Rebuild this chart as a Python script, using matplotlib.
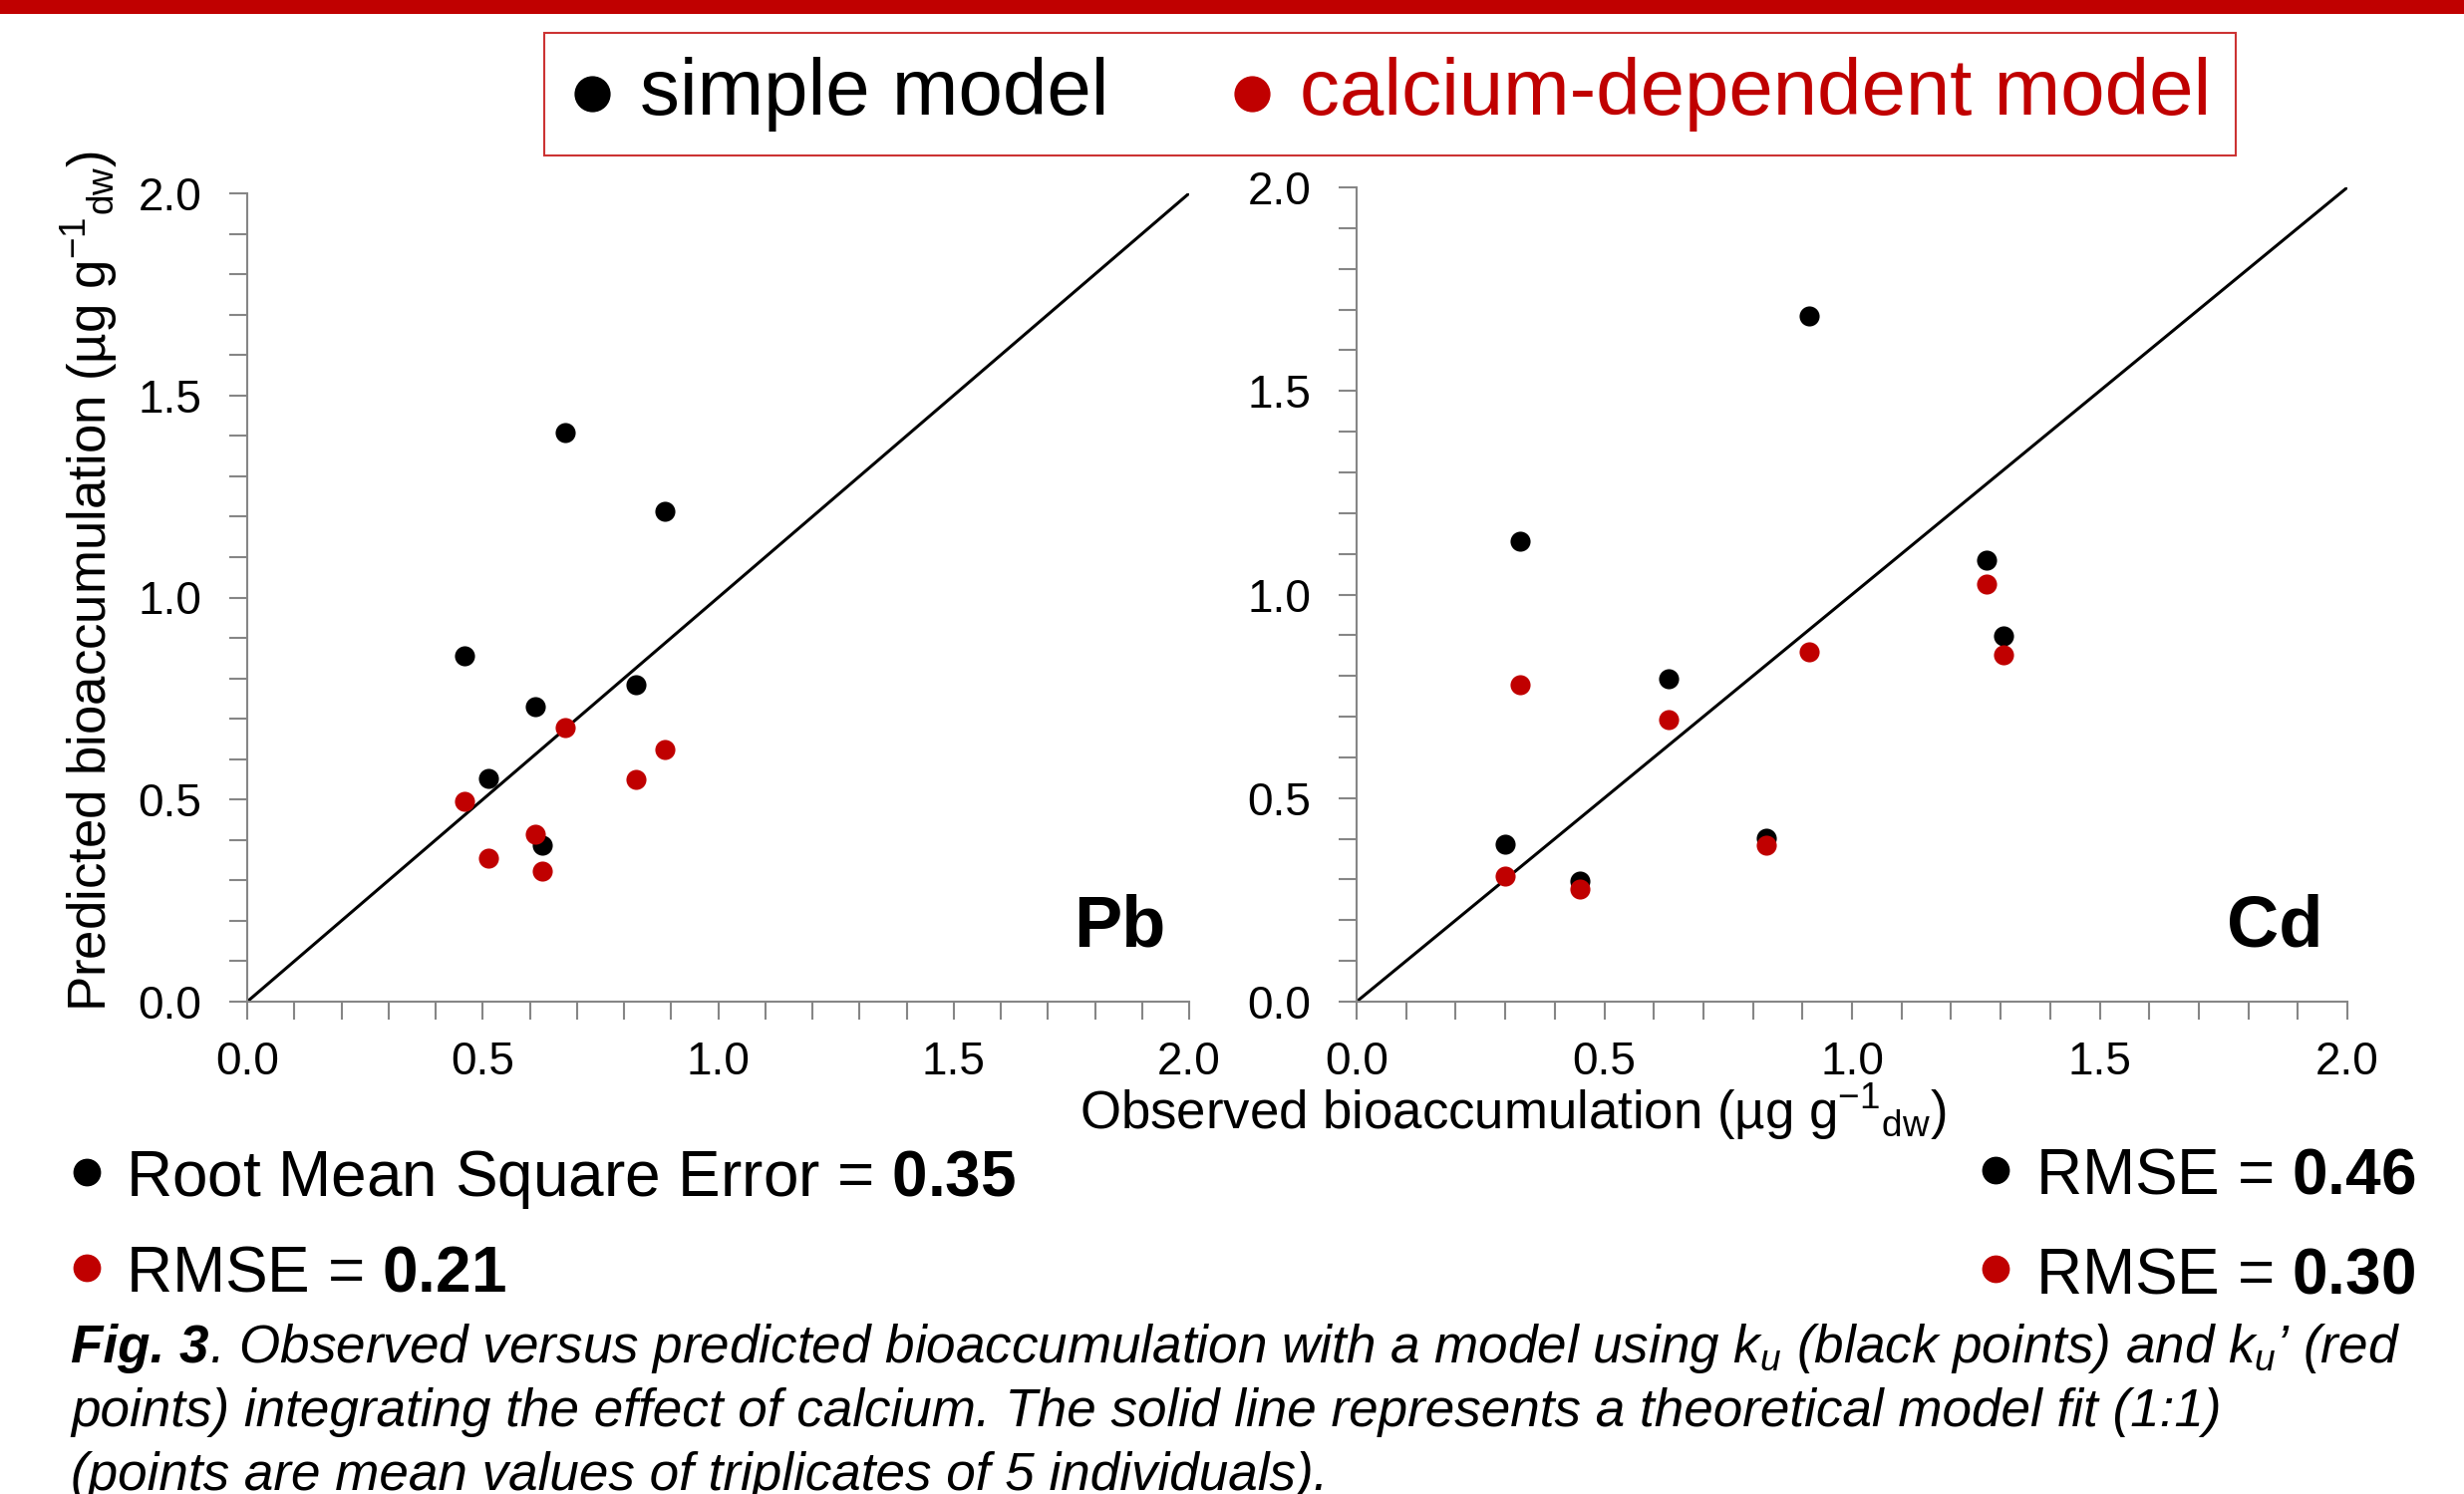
import matplotlib
matplotlib.use('Agg')
import matplotlib.pyplot as plt
from matplotlib.ticker import MultipleLocator, FormatStrFormatter
from matplotlib.lines import Line2D
from matplotlib.patches import Rectangle

plt.rcParams['font.family'] = ['Liberation Sans', 'DejaVu Sans']
plt.rcParams['mathtext.fontset'] = 'custom'
plt.rcParams['mathtext.rm'] = 'Liberation Sans'
plt.rcParams['mathtext.it'] = 'Liberation Sans:italic'
plt.rcParams['mathtext.bf'] = 'Liberation Sans:bold'

RED = '#C00000'
GREY = '#868686'

# Pb panel: observed vs predicted (simple / calcium-dependent)
pb_observed = [0.462, 0.675, 0.887, 0.612, 0.825, 0.513, 0.626]
pb_simple = [0.855, 1.407, 1.213, 0.729, 0.784, 0.553, 0.388]
pb_calcium = [0.495, 0.679, 0.623, 0.415, 0.551, 0.354, 0.324]

# Cd panel
cd_observed = [0.329, 0.914, 0.300, 0.450, 0.630, 0.826, 1.271, 1.306]
cd_simple = [1.131, 1.685, 0.387, 0.295, 0.793, 0.401, 1.084, 0.898]
cd_calcium = [0.779, 0.859, 0.308, 0.277, 0.693, 0.384, 1.025, 0.853]

one_to_one = [0.0, 2.0]

fig = plt.figure(figsize=(24.72, 14.99), dpi=100)
W, H = 2472, 1499

# red band on top
fig.add_artist(Rectangle((0, 1 - 14 / H), 1, 14 / H, transform=fig.transFigure,
                         color=RED, lw=0))

ax1 = fig.add_axes([248 / W, 1 - 1005 / H, 945 / W, 811 / H])
ax2 = fig.add_axes([1361 / W, 1 - 1005 / H, 994 / W, 817 / H])

panels = [(ax1, pb_observed, pb_simple, pb_calcium, 'Pb'),
          (ax2, cd_observed, cd_simple, cd_calcium, 'Cd')]

for ax, obs, simple, calcium, name in panels:
    ax.plot(one_to_one, one_to_one, color='black', lw=2.2, zorder=2)
    h1 = ax.scatter(obs, simple, s=210, color='black', lw=0, zorder=3)
    h2 = ax.scatter(obs, calcium, s=210, color=RED, lw=0, zorder=4)
    ax.set_xlim(0, 2)
    ax.set_ylim(0, 2)
    for side in ['top', 'right']:
        ax.spines[side].set_visible(False)
    for side in ['left', 'bottom']:
        ax.spines[side].set_color(GREY)
        ax.spines[side].set_linewidth(1.5)
    ax.xaxis.set_major_locator(MultipleLocator(0.5))
    ax.xaxis.set_minor_locator(MultipleLocator(0.1))
    ax.yaxis.set_major_locator(MultipleLocator(0.5))
    ax.yaxis.set_minor_locator(MultipleLocator(0.1))
    ax.xaxis.set_major_formatter(FormatStrFormatter('%.1f'))
    ax.yaxis.set_major_formatter(FormatStrFormatter('%.1f'))
    ax.tick_params(which='both', direction='out', length=13, width=1.5, color=GREY,
                   labelsize=33)
    ax.tick_params(axis='y', pad=20)
    ax.tick_params(axis='x', pad=15)
    ax.text(0.975, 0.068, name, transform=ax.transAxes, ha='right', va='baseline',
            fontsize=52, fontweight='bold')

fig.text(90 / W, 1 - 583 / H, r'Predicted bioaccumulation (µg g$^{-1}$$_{\mathrm{dw}}$)',
         rotation=90, ha='center', va='center', fontsize=38)
fig.text(1518 / W, 1 - 1116 / H, r'Observed bioaccumulation (µg g$^{-1}$$_{\mathrm{dw}}$)',
         ha='center', va='center', fontsize=38)

leg = fig.legend([h1, h2], ['simple model', 'calcium-dependent model'], loc='center',
                 bbox_to_anchor=(1394.5 / W, 1 - 94.5 / H), ncol=2, fontsize=57.5,
                 frameon=True, fancybox=False, edgecolor=RED, labelcolor=['black', RED],
                 handlelength=0.6, handletextpad=0.3, columnspacing=1.5, borderpad=0.3,
                 markerscale=1.8, scatterpoints=1)
leg.get_frame().set_linewidth(1.5)

# RMSE notes
rmse_notes = [(87, 126, 1200, 'black', r'Root Mean Square Error = $\mathbf{0.35}$'),
              (87, 126, 1296, RED, r'RMSE = $\mathbf{0.21}$'),
              (2002, 2042, 1198, 'black', r'RMSE = $\mathbf{0.46}$'),
              (2002, 2042, 1297, RED, r'RMSE = $\mathbf{0.30}$')]
for bx, tx, by, col, label in rmse_notes:
    fig.add_artist(Line2D([bx / W], [1 - (by - 24) / H], transform=fig.transFigure,
                          marker='o', ms=19, color=col, ls='none'))
    fig.text(tx / W, 1 - by / H, label, ha='left', va='baseline', fontsize=46)

# caption
cap_size = 38.2
fig_lbl = fig.text(71 / W, 1 - 1367 / H, 'Fig. 3', fontsize=cap_size, fontweight='bold',
                   fontstyle='italic', va='baseline')
fig.canvas.draw()
x1 = fig_lbl.get_window_extent(fig.canvas.get_renderer()).x1
fig.text(x1 / W, 1 - 1367 / H,
         r'. Observed versus predicted bioaccumulation with a model using $k_u$ (black points) and $k_u$’ (red',
         fontsize=cap_size, fontstyle='italic', va='baseline')
fig.text(71 / W, 1 - 1431 / H,
         'points) integrating the effect of calcium. The solid line represents a theoretical model fit (1:1)',
         fontsize=cap_size, fontstyle='italic', va='baseline')
fig.text(71 / W, 1 - 1495 / H,
         '(points are mean values of triplicates of 5 individuals).',
         fontsize=cap_size, fontstyle='italic', va='baseline')

fig.savefig('out.png', dpi=100)
